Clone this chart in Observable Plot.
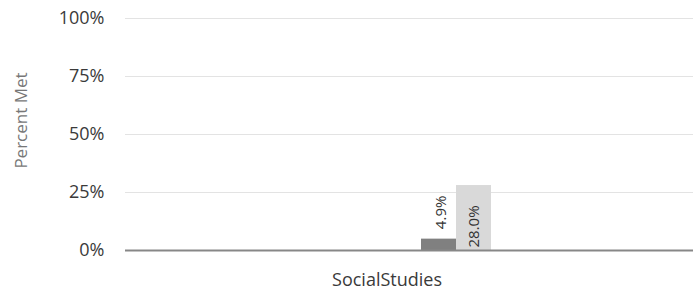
<!DOCTYPE html>
<html>
<head>
<meta charset="utf-8">
<script src="https://cdn.jsdelivr.net/npm/d3@7"></script>
<script src="https://cdn.jsdelivr.net/npm/@observablehq/plot@0.6"></script>
<style>
  html, body { margin: 0; padding: 0; background: #fff; }
</style>
</head>
<body>
<div id="chart"></div>
<script>
const categories = ["SocialStudies"];
const series = ["School", "State"];
const values = [4.9, 28.0];
const colors = ["#808080", "#d9d9d9"];
const yTicks = [0, 25, 50, 75, 100];
const yLabel = "Percent Met";

const data = series.map((s, i) => ({category: categories[0], series: s, value: values[i]}));
const fmt = d => d.value.toFixed(1) + "%";

const chart = Plot.plot({
  width: 700,
  height: 295,
  marginLeft: 125,
  marginRight: 7,
  marginTop: 18,
  marginBottom: 45,
  style: {fontFamily: "'Open Sans', sans-serif", background: "#fff"},
  fx: {domain: categories, padding: 0, label: null},
  x: {domain: series, paddingInner: 0, paddingOuter: 7.11, align: 0.594, axis: null},
  y: {domain: [0, 100], label: null},
  color: {domain: series, range: colors},
  marks: [
    Plot.gridY(yTicks, {stroke: "#e3e3e3", strokeOpacity: 1, strokeWidth: 1}),
    Plot.axisY(yTicks, {tickSize: 0, tickPadding: 21, fontSize: 18, fill: "#3a3a3a", tickFormat: d => d + "%", label: null}),
    Plot.axisFx({anchor: "bottom", tickSize: 0, tickPadding: 23, fontSize: 18, fill: "#3a3a3a", dx: -22.5, label: null}),
    Plot.barY(data, {fx: "category", x: "series", y: "value", fill: "series"}),
    Plot.ruleY([0], {stroke: "#878787", strokeWidth: 2}),
    Plot.text(data.filter(d => d.value < 10), {fx: "category", x: "series", y: "value", text: fmt, rotate: -90, textAnchor: "start", dy: -10, dx: 2, fontSize: 15, fill: "#333"}),
    Plot.text(data.filter(d => d.value >= 10), {fx: "category", x: "series", y: () => 0, text: fmt, rotate: -90, textAnchor: "start", dy: -3, fontSize: 15, fill: "#333"}),
    Plot.text([yLabel], {frameAnchor: "left", textAnchor: "middle", lineAnchor: "middle", text: d => d, rotate: -90, dx: -103.5, dy: -14, fontSize: 17, fill: "#777"})
  ]
});
document.getElementById("chart").appendChild(chart);
</script>
</body>
</html>
